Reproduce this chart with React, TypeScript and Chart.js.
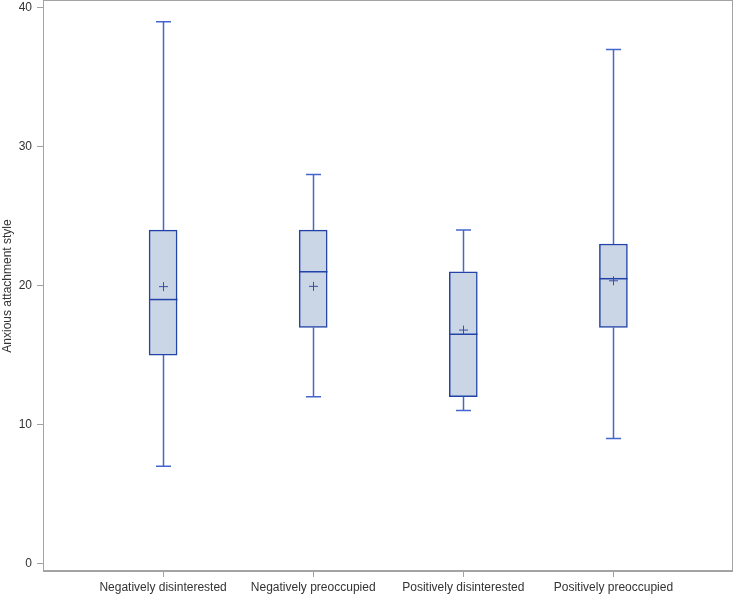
import React, { useEffect, useRef } from 'react';
import { Chart, registerables } from 'chart.js';

Chart.register(...registerables);

const categories = [
  'Negatively disinterested',
  'Negatively preoccupied',
  'Positively disinterested',
  'Positively preoccupied',
];
const minValues = [7, 12, 11, 9];
const q1Values = [15, 17, 12, 17];
const medianValues = [19, 21, 16.5, 20.5];
const q3Values = [24, 24, 21, 23];
const maxValues = [39, 28, 24, 37];
const meanValues = [19.93, 19.95, 16.8, 20.35];
const yTicks = [0, 10, 20, 30, 40];

const BOX_FILL = '#CAD5E6';
const BOX_LINE = '#2243A8';
const WHISKER = '#4566CC';
const FRAME = '#A3A3A3';

const boxPlotPlugin = {
  id: 'boxPlotExtras',
  afterDatasetsDraw(chart: any) {
    const { ctx, scales } = chart;
    const xs = scales.x;
    const ys = scales.y;
    ctx.save();
    categories.forEach((_, i) => {
      const cx = Math.round(xs.getPixelForValue(i)) + 0.5;
      const yMin = ys.getPixelForValue(minValues[i]);
      const yQ1 = ys.getPixelForValue(q1Values[i]);
      const yQ3 = ys.getPixelForValue(q3Values[i]);
      const yMax = ys.getPixelForValue(maxValues[i]);
      const yMed = ys.getPixelForValue(medianValues[i]);
      const yMean = ys.getPixelForValue(meanValues[i]);
      ctx.strokeStyle = WHISKER;
      ctx.lineWidth = 1.5;
      ctx.beginPath();
      ctx.moveTo(cx, yQ3);
      ctx.lineTo(cx, yMax);
      ctx.moveTo(cx, yQ1);
      ctx.lineTo(cx, yMin);
      ctx.stroke();
      ctx.beginPath();
      ctx.moveTo(cx - 7.5, yMax);
      ctx.lineTo(cx + 7.5, yMax);
      ctx.moveTo(cx - 7.5, yMin);
      ctx.lineTo(cx + 7.5, yMin);
      ctx.stroke();
      ctx.strokeStyle = BOX_LINE;
      ctx.lineWidth = 1.5;
      ctx.beginPath();
      ctx.moveTo(cx - 14, yMed);
      ctx.lineTo(cx + 14, yMed);
      ctx.stroke();
      ctx.strokeStyle = '#3A4FA0';
      ctx.lineWidth = 1;
      ctx.beginPath();
      ctx.moveTo(cx - 4.5, yMean);
      ctx.lineTo(cx + 4.5, yMean);
      ctx.moveTo(cx, yMean - 4.5);
      ctx.lineTo(cx, yMean + 4.5);
      ctx.stroke();
    });
    ctx.restore();
  },
  afterDraw(chart: any) {
    const { ctx, chartArea } = chart;
    ctx.save();
    ctx.strokeStyle = FRAME;
    ctx.lineWidth = 1;
    ctx.strokeRect(
      Math.round(chartArea.left) + 0.5,
      Math.round(chartArea.top) - 0.5,
      Math.round(chartArea.right - chartArea.left),
      Math.round(chartArea.bottom - chartArea.top)
    );
    ctx.restore();
  },
};

export default function App() {
  const canvasRef = useRef<HTMLCanvasElement | null>(null);

  useEffect(() => {
    document.body.style.margin = '0';
    const canvas = canvasRef.current;
    if (!canvas) return;
    const chart = new Chart(canvas, {
      type: 'bar',
      data: {
        datasets: [
          {
            label: 'Box',
            data: categories.map((_, i) => ({ x: i, y: [q1Values[i], q3Values[i]] })) as any,
            backgroundColor: BOX_FILL,
            borderColor: BOX_LINE,
            borderWidth: 1.5,
            borderSkipped: false,
            barThickness: 28,
          },
        ],
      },
      options: {
        responsive: false,
        animation: false,
        layout: { padding: { top: 1, right: 1, left: 0, bottom: 0 } },
        plugins: {
          legend: { display: false },
          tooltip: { enabled: false },
        },
        scales: {
          x: {
            type: 'linear',
            min: -0.8,
            max: 3.79,
            offset: false,
            afterBuildTicks: (scale: any) => {
              scale.ticks = categories.map((_, i) => ({ value: i }));
            },
            afterFit: (scale: any) => {
              scale.height = 24;
              scale.paddingLeft = 0;
              scale.paddingRight = 0;
            },
            ticks: {
              callback: (v: any) => categories[v as number] ?? '',
              color: '#333',
              font: { family: 'Liberation Sans, Arial, sans-serif', size: 12 },
              padding: 3,
              maxRotation: 0,
              autoSkip: false,
            },
            grid: {
              display: true,
              drawOnChartArea: false,
              drawTicks: true,
              tickLength: 6,
              color: FRAME,
              offset: false,
            },
            border: { display: true, color: FRAME },
          },
          y: {
            type: 'linear',
            min: -0.55,
            max: 40.5,
            afterBuildTicks: (scale: any) => {
              scale.ticks = yTicks.map((v) => ({ value: v }));
            },
            afterFit: (scale: any) => {
              scale.width = 43;
              scale.paddingTop = 0;
              scale.paddingBottom = 0;
            },
            ticks: {
              color: '#333',
              font: { family: 'Liberation Sans, Arial, sans-serif', size: 12 },
              padding: 5,
            },
            grid: {
              display: true,
              drawOnChartArea: false,
              drawTicks: true,
              tickLength: 6,
              color: FRAME,
            },
            border: { display: true, color: FRAME },
            title: {
              display: true,
              text: 'Anxious attachment style',
              color: '#333',
              font: { family: 'Liberation Sans, Arial, sans-serif', size: 12 },
              padding: { top: 0, bottom: 0 },
            },
          },
        },
      },
      plugins: [boxPlotPlugin],
    });
    return () => chart.destroy();
  }, []);

  return (
    <div style={{ width: 733, height: 595 }}>
      <canvas ref={canvasRef} width={733} height={595} />
    </div>
  );
}
